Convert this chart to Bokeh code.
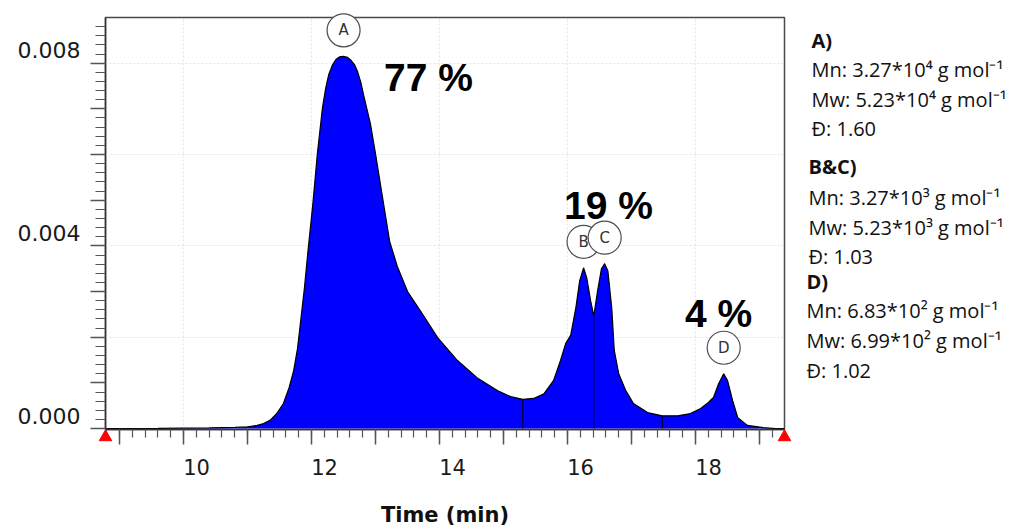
import numpy as np
from bokeh.plotting import figure
from bokeh.models import Range1d, FixedTicker, CustomLabelingPolicy
from bokeh.core.properties import value
from bokeh.embed import file_html
from bokeh.resources import INLINE

# GPC trace: retention time (min) vs detector signal
time_min = [8.78, 9.20, 9.60, 10.00, 10.40, 10.80, 11.00, 11.15, 11.25, 11.35,
            11.45, 11.56, 11.65, 11.72, 11.78, 11.83, 11.89, 11.94, 12.02, 12.09,
            12.17, 12.22, 12.27, 12.33, 12.38, 12.44, 12.50, 12.56, 12.61, 12.67,
            12.72, 12.77, 12.81, 12.92, 13.00, 13.11, 13.22, 13.34, 13.50, 13.70,
            13.97, 14.28, 14.59, 14.91, 15.11, 15.30, 15.47, 15.63, 15.78, 15.89,
            15.97, 16.05, 16.13, 16.19, 16.25, 16.30, 16.36, 16.41, 16.47, 16.53,
            16.58, 16.63, 16.69, 16.73, 16.80, 16.91, 17.03, 17.25, 17.48, 17.72,
            17.92, 18.08, 18.20, 18.28, 18.36, 18.44, 18.50, 18.58, 18.66, 18.81,
            19.06, 19.25, 19.39]
signal = [0.0, 0.000002, 0.000005, 0.000010, 0.000015, 0.000025, 0.000040, 0.000070, 0.000110, 0.000180,
          0.000320, 0.00055, 0.00090, 0.00127, 0.00175, 0.00236, 0.00310, 0.00383, 0.00492, 0.00601,
          0.00702, 0.00745, 0.00776, 0.00797, 0.00808, 0.00814, 0.00815, 0.00813, 0.00807, 0.00797,
          0.00781, 0.00758, 0.00732, 0.00667, 0.00601, 0.00505, 0.00410, 0.00355, 0.00300, 0.00258,
          0.00199, 0.00149, 0.00111, 0.00083, 0.00070, 0.00064, 0.00066, 0.00076, 0.00105, 0.00149,
          0.00186, 0.00205, 0.00265, 0.00324, 0.00352, 0.00330, 0.00280, 0.00247, 0.00302, 0.00350,
          0.00361, 0.00345, 0.00265, 0.00171, 0.00120, 0.00083, 0.00055, 0.00035, 0.00028, 0.00028,
          0.00033, 0.00044, 0.00057, 0.00068, 0.00098, 0.00120, 0.00105, 0.00061, 0.00024, 0.00007,
          0.00002, 0.0, 0.0]

# integration limits and drop lines between peak groups
integration_limits = [8.78, 19.39]
split_times = [15.30, 16.41, 17.48]

# peak labels
peak_names = ["A", "B", "C", "D"]
peak_times = [12.50, 16.25, 16.58, 18.44]

# area share of each peak group
group_pct = ["77 %", "19 %", "4 %"]

# axis ticks
x_major = [9, 10, 11, 12, 13, 14, 15, 16, 17, 18, 19]
x_labeled = [10, 12, 14, 16, 18]
y_major = [0.0, 0.001, 0.002, 0.003, 0.004, 0.005, 0.006, 0.007, 0.008]
y_labeled = [0.0, 0.004, 0.008]
y_grid = [0.002, 0.004, 0.006, 0.008]

# molecular weight summary
summary = [
    ("A)", True), ("Mn: 3.27*10\u2074 g mol\u207b\u00b9", False), ("Mw: 5.23*10\u2074 g mol\u207b\u00b9", False), ("\u0110: 1.60", False),
    ("B&C)", True), ("Mn: 3.27*10\u00b3 g mol\u207b\u00b9", False), ("Mw: 5.23*10\u00b3 g mol\u207b\u00b9", False), ("\u0110: 1.03", False),
    ("D)", True), ("Mn: 6.83*10\u00b2 g mol\u207b\u00b9", False), ("Mw: 6.99*10\u00b2 g mol\u207b\u00b9", False), ("\u0110: 1.02", False),
]

W, H = 1034, 531
LEFT, RIGHT, TOP, BOTTOM = 105, 250, 17, 102
X0, X1 = 8.78, 19.39
Y0, Y1 = -0.00002, 0.009
FW, FH = W - LEFT - RIGHT, H - TOP - BOTTOM


def sx(px):
    return X0 + (px - LEFT) / FW * (X1 - X0)


def sy(py):
    return Y0 + (TOP + FH - py) / FH * (Y1 - Y0)


px_per_y = FH / (Y1 - Y0)

p = figure(width=W, height=H, x_range=Range1d(X0, X1), y_range=Range1d(Y0, Y1),
           output_backend="svg", toolbar_location=None,
           min_border_left=LEFT, min_border_right=RIGHT,
           min_border_top=TOP, min_border_bottom=BOTTOM)
p.background_fill_color = "white"
p.border_fill_color = "white"
p.outline_line_color = "#4a4a4a"
p.outline_line_width = 1.5

# grid
p.xgrid.ticker = FixedTicker(ticks=x_labeled)
p.ygrid.ticker = FixedTicker(ticks=y_grid)
for g in (p.xgrid, p.ygrid):
    g.grid_line_color = "#e4e4e4"
    g.grid_line_dash = "2 2"
    g.grid_line_width = 1

# the axes draw only lines and ticks; their numbers are placed separately below
no_labels = CustomLabelingPolicy(code="return []")

xa = p.xaxis[0]
xa.ticker = FixedTicker(ticks=x_major, minor_ticks=list(np.round(np.arange(8.8, 19.3, 0.2), 1)))
xa.major_label_policy = no_labels
xa.major_tick_out = 15
xa.major_tick_in = 0
xa.minor_tick_out = 8
xa.minor_tick_in = 0
xa.axis_label = "Time (min)"
xa.axis_label_text_font = "DejaVu Sans"
xa.axis_label_text_font_style = "bold"
xa.axis_label_text_font_size = "21px"
xa.axis_label_text_color = "#111111"
xa.axis_label_standoff = 42

ya = p.yaxis[0]
ya.ticker = FixedTicker(ticks=y_major, minor_ticks=list(np.round(np.arange(0, 0.0090, 0.0002), 4)))
ya.major_label_policy = no_labels
ya.major_tick_out = 15
ya.major_tick_in = 0
ya.minor_tick_out = 10
ya.minor_tick_in = 0

for ax in (xa, ya):
    ax.axis_line_color = "#333333"
    ax.axis_line_width = 1.5
    ax.major_tick_line_color = "#555555"
    ax.minor_tick_line_color = "#555555"
    ax.major_tick_line_width = 1.5
    ax.minor_tick_line_width = 1.2

# tick numbers: x numbers start right of the tick, y numbers sit above the tick
p.text(x=x_labeled, y=[Y0] * len(x_labeled), text=[str(t) for t in x_labeled],
       text_align="center", text_baseline="middle", x_offset=13, y_offset=37,
       text_font=value("DejaVu Sans"), text_font_size="21px", text_color="#1a1a1a",
       level="overlay")
p.text(x=[X0] * len(y_labeled), y=y_labeled, text=[f"{t:.3f}" for t in y_labeled],
       text_align="right", text_baseline="middle", x_offset=-25, y_offset=-13,
       text_font=value("DejaVu Sans"), text_font_size="22px", text_color="#1a1a1a",
       level="overlay")

# filled chromatogram
p.varea(x=time_min, y1=0, y2=signal, fill_color="#0000ff")
p.line(time_min, signal, line_color="black", line_width=1.2)

# drop lines at the group boundaries
drop_h = np.interp(split_times, time_min, signal)
p.segment(x0=split_times, y0=[0] * len(split_times), x1=split_times, y1=drop_h,
          line_color="black", line_width=1)

# integration limit markers
p.scatter(x=integration_limits, y=[-8.5 / px_per_y] * 2, marker="triangle", size=12.5,
          fill_color="red", line_color="red", level="overlay")

# peak letters in circles
peak_h = np.interp(peak_times, time_min, signal) + 26 / px_per_y
p.scatter(x=peak_times, y=peak_h, marker="circle", size=33, fill_color="white",
          line_color="#4d4d4d", line_width=1.2, level="overlay")
p.text(x=peak_times, y=peak_h, text=peak_names, text_align="center", text_baseline="middle",
       text_font=value("DejaVu Sans"), text_font_size="15px", text_color="#333333", level="overlay")

# area percentages
pct_x = [sx(428), sx(608), sx(718)]
pct_y = [sy(77), sy(205), sy(313)]
p.text(x=pct_x, y=pct_y, text=group_pct, text_align="center", text_baseline="alphabetic",
       text_font=value("Liberation Sans"), text_font_style="bold", text_font_size="39px",
       text_color="black", level="overlay")

# summary text to the right of the plot
line_y = [40, 69, 99, 128, 166, 197, 227, 256, 281, 310, 340, 370]
line_x = [811, 811, 811, 811, 808, 808, 808, 808, 806, 806, 806, 806]
bold_idx = [i for i, (_, b) in enumerate(summary) if b]
norm_idx = [i for i, (_, b) in enumerate(summary) if not b]
for idx, style in ((bold_idx, "bold"), (norm_idx, "normal")):
    p.text(x=[sx(line_x[i]) for i in idx], y=[sy(line_y[i]) for i in idx],
           text=[summary[i][0] for i in idx], text_align="left", text_baseline="middle",
           text_font=value("Open Sans"), text_font_size="20px", text_font_style=style,
           text_color="#111111", level="overlay")

open("out.html", "w").write(file_html(p, INLINE))
